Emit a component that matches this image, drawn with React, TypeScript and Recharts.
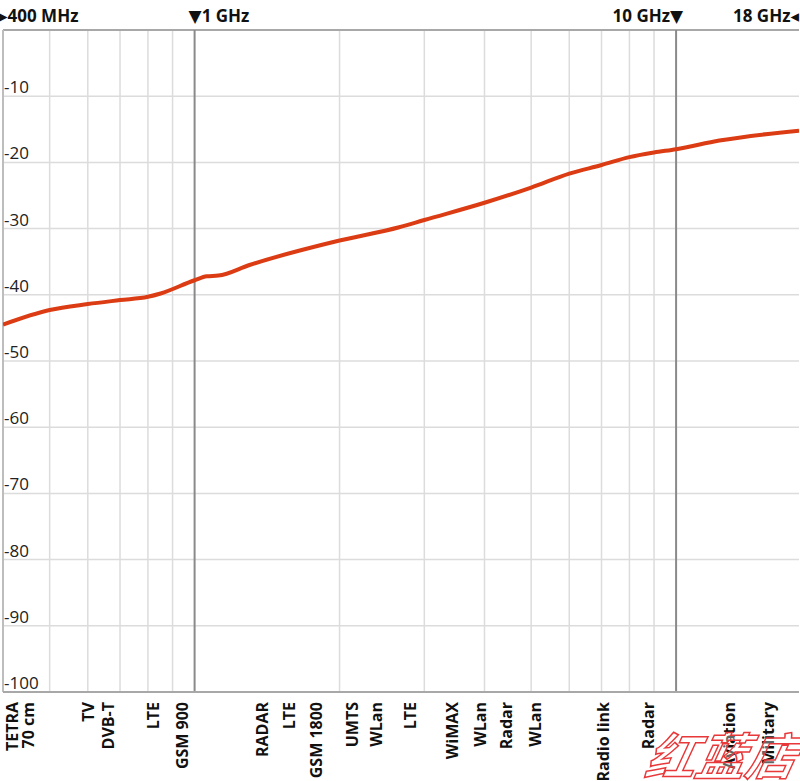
import React from "react";
import {
  LineChart,
  Line,
  XAxis,
  YAxis,
  CartesianGrid,
  ReferenceLine,
} from "recharts";

// attenuation curve, frequency in GHz, level in dB
const frequencies = [0.4, 0.5, 0.6, 0.7, 0.8, 0.85, 1.0, 1.06, 1.12, 1.3, 2.0, 2.66, 3, 4, 5, 6, 7, 8, 9, 10, 12.3, 18];
const levels = [-44.5, -42.3, -41.4, -40.8, -40.3, -39.8, -37.8, -37.2, -37.1, -35.5, -31.8, -29.8, -28.7, -26.1, -23.8, -21.7, -20.4, -19.2, -18.5, -18.0, -16.7, -15.2];

// service labels along the bottom
const serviceFreqs = [0.434, 0.6, 0.66, 0.82, 0.943, 1.38, 1.57, 1.79, 2.12, 2.38, 2.8, 3.42, 3.92, 4.44, 5.1, 7.06, 8.74, 12.9, 15.5];
const serviceLabels = [
  "TETRA|70 cm", "TV", "DVB-T", "LTE", "GSM 900", "RADAR", "LTE", "GSM 1800", "UMTS", "WLan",
  "LTE", "WiMAX", "WLan", "Radar", "WLan", "Radio link", "Radar", "Aviation", "Military",
];

// log grid
const minorGrid = [0.5, 0.6, 0.7, 0.8, 0.9, 2, 3, 4, 5, 6, 7, 8, 9];
const majorGrid = [1, 10];
const yTicks = [-100, -90, -80, -70, -60, -50, -40, -30, -20, -10];

const data = frequencies.map((f, i) => ({ f, level: levels[i] }));

const FONT = "'Open Sans', 'DejaVu Sans', sans-serif";
const PLOT_LEFT = 3;

function ServiceTick(props: any) {
  const { x, y, index } = props;
  const parts = serviceLabels[index].split("|");
  const top = y + 2;
  const style = { fontFamily: FONT, fontWeight: 700, fontSize: 16, fill: "#111" };
  if (parts.length > 1) {
    return (
      <g>
        {parts.map((p, k) => {
          const cx = x + (k === 0 ? -8 : 8);
          return (
            <text key={k} x={cx} y={top} transform={`rotate(-90, ${cx}, ${top})`} textAnchor="end" dominantBaseline="central" style={style}>
              {p}
            </text>
          );
        })}
      </g>
    );
  }
  return (
    <text x={x} y={top} transform={`rotate(-90, ${x}, ${top})`} textAnchor="end" dominantBaseline="central" style={style}>
      {parts[0]}
    </text>
  );
}

function levelLabel(value: number) {
  return (props: any) => {
    const vb = props.viewBox || {};
    return (
      <text x={(vb.x ?? PLOT_LEFT) + 1} y={(vb.y ?? 0) - 3} textAnchor="start" style={{ fontFamily: FONT, fontSize: 17, fill: "#222" }}>
        {value}
      </text>
    );
  };
}

function topLabel(text: string, anchor: "start" | "end", dx: number) {
  return (props: any) => {
    const vb = props.viewBox || {};
    return (
      <text x={(vb.x ?? 0) + dx} y={22} textAnchor={anchor} style={{ fontFamily: FONT, fontWeight: 700, fontSize: 17, fill: "#111" }}>
        {text}
      </text>
    );
  };
}

export default function App() {
  return (
    <div style={{ position: "absolute", left: 0, top: 0, width: 800, height: 781, background: "#fff", overflow: "hidden" }}>
      <LineChart width={800} height={781} data={data} margin={{ top: 30, right: 1, left: PLOT_LEFT, bottom: 0 }}>
        <CartesianGrid vertical={false} stroke="#dcdcdc" strokeWidth={1.5} />
        {minorGrid.map((g) => (
          <ReferenceLine key={g} x={g} stroke="#dcdcdc" strokeWidth={1.5} />
        ))}
        <XAxis
          dataKey="f"
          type="number"
          scale="log"
          domain={[0.4, 18]}
          allowDataOverflow
          ticks={serviceFreqs}
          interval={0}
          tick={<ServiceTick />}
          tickLine={false}
          axisLine={{ stroke: "#a8a8a8", strokeWidth: 2 }}
          height={89}
        />
        <YAxis type="number" domain={[-100, 0]} ticks={yTicks} hide />
        {yTicks.map((t) => (
          <ReferenceLine key={t} y={t} stroke="none" label={levelLabel(t)} />
        ))}
        <ReferenceLine y={0} stroke="#a8a8a8" strokeWidth={2} />
        <ReferenceLine x={0.4} stroke="#bdbdbd" strokeWidth={2} label={topLabel("▸400 MHz", "start", -4)} />
        <ReferenceLine x={majorGrid[0]} stroke="#8a8a8a" strokeWidth={2} label={topLabel("▼1 GHz", "start", -6)} />
        <ReferenceLine x={majorGrid[1]} stroke="#8a8a8a" strokeWidth={2} label={topLabel("10 GHz▼", "end", 7)} />
        <ReferenceLine x={18} stroke="none" label={topLabel("18 GHz◂", "start", -66)} />
        <Line
          type="monotone"
          dataKey="level"
          stroke="#dc3c14"
          strokeWidth={4}
          dot={false}
          isAnimationActive={false}
        />
      </LineChart>
      <div
        style={{
          position: "absolute",
          left: 648,
          top: 728,
          fontFamily: "'Noto Sans CJK SC', sans-serif",
          fontSize: 50,
          fontStyle: "italic",
          fontWeight: 700,
          color: "rgba(255,255,255,0.35)",
          WebkitTextStroke: "1.5px #e8383a",
          lineHeight: 1,
          whiteSpace: "nowrap",
          pointerEvents: "none",
          transform: "skewX(-12deg)",
        }}
      >
        红蓝店
      </div>
    </div>
  );
}
